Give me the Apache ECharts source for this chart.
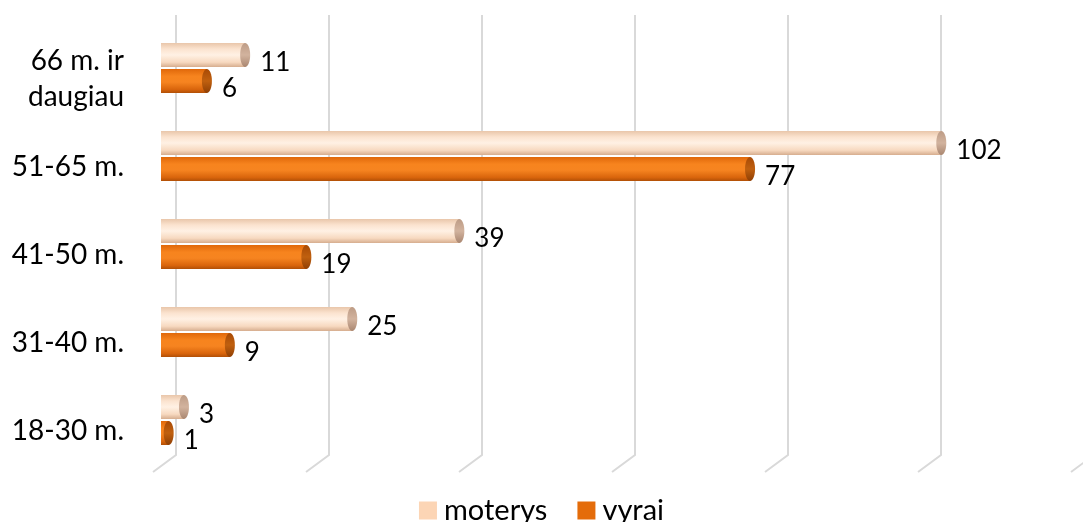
<!DOCTYPE html>
<html>
<head>
<meta charset="utf-8">
<script src="https://cdn.jsdelivr.net/npm/echarts@6/dist/echarts.min.js"></script>
<style>
  html, body { margin: 0; padding: 0; background: #fff; }
  #chart { width: 1083px; height: 522px; }
</style>
</head>
<body>
<div id="chart"></div>
<script>
// amžiaus grupės (iš apačios į viršų)
var categories = ['18-30 m.', '31-40 m.', '41-50 m.', '51-65 m.', '66 m. ir\ndaugiau'];
var moterys = [3, 25, 39, 102, 11];
var vyrai = [1, 9, 19, 77, 6];
var xTicks = [0, 20, 40, 60, 80, 100, 120];

var FONT = 'Lato, "Open Sans", sans-serif';

// cilindro stiliai
var styles = {
  moterys: {
    body: new echarts.graphic.LinearGradient(0, 0, 0, 1, [
      { offset: 0, color: '#e9c6aa' },
      { offset: 0.25, color: '#fbe3cf' },
      { offset: 0.5, color: '#fff1e4' },
      { offset: 0.8, color: '#f7d9c0' },
      { offset: 1, color: '#d6ad8e' }
    ]),
    cap: new echarts.graphic.LinearGradient(0, 0, 0, 1, [
      { offset: 0, color: '#bd9c86' },
      { offset: 0.5, color: '#d2b39e' },
      { offset: 1, color: '#a98670' }
    ]),
    shift: -13
  },
  vyrai: {
    body: new echarts.graphic.LinearGradient(0, 0, 0, 1, [
      { offset: 0, color: '#e0680a' },
      { offset: 0.3, color: '#f7841e' },
      { offset: 0.55, color: '#f68420' },
      { offset: 0.85, color: '#d9650c' },
      { offset: 1, color: '#b14f06' }
    ]),
    cap: new echarts.graphic.LinearGradient(0, 0, 0, 1, [
      { offset: 0, color: '#a84a05' },
      { offset: 0.5, color: '#c0600f' },
      { offset: 1, color: '#8f3f04' }
    ]),
    shift: 13
  }
};

function cylinder(name) {
  return function (params, api) {
    var val = api.value(0);
    var cat = api.value(1);
    var p0 = api.coord([0, cat]);
    var p1 = api.coord([val, cat]);
    var st = styles[name];
    var h = 24;
    var cy = p0[1] + st.shift;
    return {
      type: 'group',
      children: [
        {
          type: 'rect',
          shape: { x: p0[0], y: cy - h / 2, width: p1[0] - p0[0], height: h },
          style: { fill: st.body }
        },
        {
          type: 'ellipse',
          shape: { cx: p1[0], cy: cy, rx: 5, ry: h / 2 },
          style: { fill: st.cap }
        },
        {
          type: 'text',
          x: p1[0] + 15,
          y: cy + 8,
          style: {
            text: String(val),
            fill: '#000',
            font: '26px ' + FONT,
            verticalAlign: 'middle',
            align: 'left'
          }
        }
      ]
    };
  };
}

// galinės tinklelio linijos su "kojelėmis"
function gridLines(params, api) {
  var x = api.coord([api.value(0), 0])[0];
  var cs = params.coordSys;
  return {
    type: 'polyline',
    shape: {
      points: [
        [x + 15, cs.y - 9],
        [x + 15, cs.y + cs.height - 9],
        [x - 8, cs.y + cs.height + 8]
      ]
    },
    style: { stroke: '#d9d9d9', lineWidth: 2, fill: null }
  };
}

var chart = echarts.init(document.getElementById('chart'));
var option = {
  animation: false,
  grid: [
    { left: 161, right: 4, top: 24, bottom: 58, containLabel: false },
    // priekinė plokštuma kategorijų pavadinimams (paslinkta žemyn)
    { left: 161, right: 4, top: 35, bottom: 47, containLabel: false }
  ],
  legend: {
    data: ['moterys', 'vyrai'],
    left: 'center',
    top: 491,
    icon: 'rect',
    itemWidth: 18,
    itemHeight: 18,
    itemGap: 30,
    textStyle: { fontSize: 29, fontFamily: FONT, color: '#000', padding: [0, 0, 0, 2] }
  },
  xAxis: [
    { type: 'value', min: 0, max: 120, interval: 20, show: false, gridIndex: 0 },
    { type: 'value', min: 0, max: 120, interval: 20, show: false, gridIndex: 1 }
  ],
  yAxis: [
    {
      type: 'category',
      data: categories,
      gridIndex: 0,
      axisLine: { show: false },
      axisTick: { show: false },
      axisLabel: { show: false },
      splitLine: { show: false }
    },
    {
      type: 'category',
      data: categories,
      gridIndex: 1,
      axisLine: { show: false },
      axisTick: { show: false },
      splitLine: { show: false },
      axisLabel: {
        margin: 37,
        fontSize: 28,
        fontFamily: FONT,
        color: '#000',
        lineHeight: 36,
        align: 'right'
      }
    }
  ],
  series: [
    {
      name: 'grid',
      type: 'custom',
      silent: true,
      z: 1,
      renderItem: gridLines,
      encode: { x: 0 },
      data: xTicks.map(function (v) { return [v]; })
    },
    {
      name: 'moterys',
      type: 'custom',
      z: 3,
      itemStyle: { color: '#fcd5b5' },
      renderItem: cylinder('moterys'),
      encode: { x: 0, y: 1 },
      data: moterys.map(function (v, i) { return [v, i]; })
    },
    {
      name: 'vyrai',
      type: 'custom',
      z: 3,
      itemStyle: { color: '#e46c0a' },
      renderItem: cylinder('vyrai'),
      encode: { x: 0, y: 1 },
      data: vyrai.map(function (v, i) { return [v, i]; })
    }
  ]
};
chart.setOption(option);
</script>
</body>
</html>
